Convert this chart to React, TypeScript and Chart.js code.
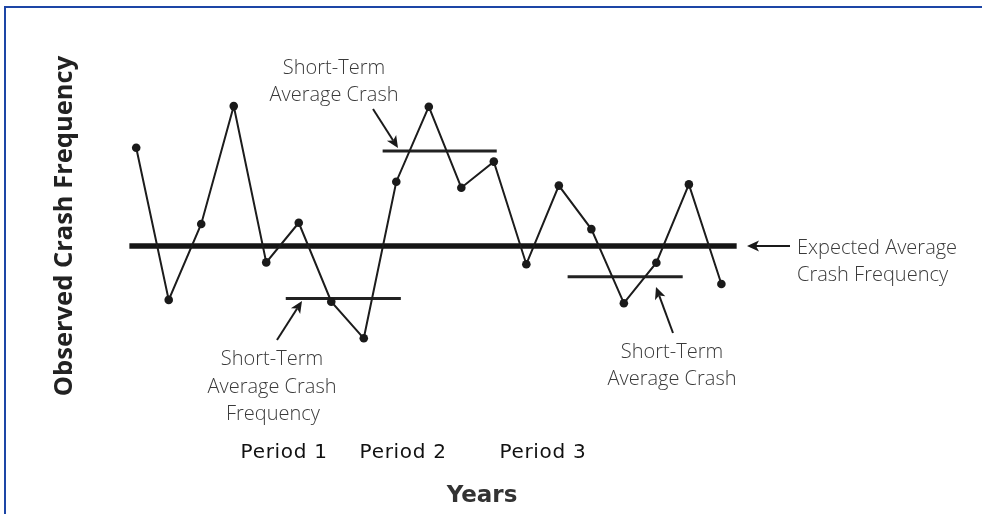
import { useEffect, useRef } from 'react';
import { Chart, registerables } from 'chart.js';

Chart.register(...registerables);

// ---- Data ----
const years = [1, 2, 3, 4, 5, 6, 7, 8, 9, 10, 11, 12, 13, 14, 15, 16, 17, 18, 19];
const observedCrashes = [8.24, 3.17, 5.7, 9.63, 4.42, 5.74, 3.11, 1.89, 7.11, 9.61, 6.91, 7.78, 4.36, 6.98, 5.53, 3.06, 4.41, 7.02, 3.7];
const expectedAverage = 4.97;
const expectedSpan = [0.79, 19.47];
const shortTermStarts = [5.6, 8.58, 14.27];
const shortTermEnds = [9.14, 12.09, 17.81];
const shortTermAverages = [3.22, 8.13, 3.94];
const periodLabels = ['Period 1', 'Period 2', 'Period 3'];
const periodLabelX = [5.55, 9.21, 13.51];

const ANN_FONT = '300 20px "Open Sans", "Noto Sans", sans-serif';
const ANN_COLOR = '#3a3a3a';

function drawArrow(ctx: CanvasRenderingContext2D, x1: number, y1: number, x2: number, y2: number) {
  const ang = Math.atan2(y2 - y1, x2 - x1);
  const headLen = 12;
  const headW = 5.5;
  const bx = x2 - headLen * Math.cos(ang);
  const by = y2 - headLen * Math.sin(ang);
  ctx.strokeStyle = '#1a1a1a';
  ctx.fillStyle = '#1a1a1a';
  ctx.lineWidth = 2;
  ctx.beginPath();
  ctx.moveTo(x1, y1);
  ctx.lineTo(bx + 3 * Math.cos(ang), by + 3 * Math.sin(ang));
  ctx.stroke();
  ctx.beginPath();
  ctx.moveTo(x2, y2);
  ctx.lineTo(bx + headW * Math.sin(ang), by - headW * Math.cos(ang));
  ctx.lineTo(bx + 3 * Math.cos(ang), by + 3 * Math.sin(ang));
  ctx.lineTo(bx - headW * Math.sin(ang), by + headW * Math.cos(ang));
  ctx.closePath();
  ctx.fill();
}

const annotationPlugin = {
  id: 'annotations',
  afterDraw(chart: any) {
    const ctx: CanvasRenderingContext2D = chart.ctx;
    const xs = chart.scales.x;
    ctx.save();

    // Y axis title
    ctx.save();
    ctx.translate(72, 226);
    ctx.rotate(-Math.PI / 2);
    ctx.font = 'bold 25.5px "Open Sans", "Noto Sans", sans-serif';
    ctx.fillStyle = '#222';
    ctx.textAlign = 'center';
    ctx.textBaseline = 'alphabetic';
    ctx.fillText('Observed Crash Frequency', 0, 0);
    ctx.restore();

    // annotation texts
    ctx.font = ANN_FONT;
    ctx.fillStyle = ANN_COLOR;
    ctx.textAlign = 'center';
    ctx.textBaseline = 'alphabetic';
    ctx.fillText('Short-Term', 334, 74);
    ctx.fillText('Average Crash', 334, 101);

    ctx.fillText('Short-Term', 272, 365);
    ctx.fillText('Average Crash', 272, 393);
    ctx.fillText('Frequency', 273, 420);

    ctx.fillText('Short-Term', 672, 358);
    ctx.fillText('Average Crash', 672, 385);

    ctx.textAlign = 'left';
    ctx.fillText('Expected Average', 797, 254);
    ctx.fillText('Crash Frequency', 797, 281);

    // arrows
    drawArrow(ctx, 373, 109, 398, 148);
    drawArrow(ctx, 277, 340, 302, 301);
    drawArrow(ctx, 673, 333, 656, 287);
    drawArrow(ctx, 790, 246, 747, 246);

    // period labels
    ctx.font = '20px "DejaVu Sans", Verdana, sans-serif';
    (ctx as any).letterSpacing = '0.7px';
    ctx.fillStyle = '#111';
    ctx.textAlign = 'center';
    periodLabels.forEach((p, i) => {
      ctx.fillText(p, xs.getPixelForValue(periodLabelX[i]), 458);
    });
    (ctx as any).letterSpacing = '0px';

    // x axis title
    ctx.font = 'bold 23px "DejaVu Sans", Verdana, sans-serif';
    ctx.fillStyle = '#333';
    ctx.fillText('Years', 482, 502);

    ctx.restore();
  },
};

export default function App() {
  const ref = useRef<HTMLCanvasElement | null>(null);

  useEffect(() => {
    if (!ref.current) return;
    const lineColor = '#151515';
    const datasets: any[] = [
      {
        label: 'Expected Average Crash Frequency',
        data: expectedSpan.map((x) => ({ x, y: expectedAverage })),
        borderColor: lineColor,
        borderWidth: 5.5,
        pointRadius: 0,
        borderCapStyle: 'butt',
        order: 2,
      },
      ...shortTermAverages.map((avg, i) => ({
        label: 'Short-Term Average ' + (i + 1),
        data: [
          { x: shortTermStarts[i], y: avg },
          { x: shortTermEnds[i], y: avg },
        ],
        borderColor: '#222',
        borderWidth: 3,
        pointRadius: 0,
        order: 2,
      })),
      {
        label: 'Observed Crash Frequency',
        data: years.map((x, i) => ({ x, y: observedCrashes[i] })),
        borderColor: '#1c1c1c',
        borderWidth: 2,
        pointRadius: 4.3,
        pointBackgroundColor: '#1a1a1a',
        pointBorderWidth: 0,
        tension: 0,
        order: 1,
      },
    ];

    const chart = new Chart(ref.current, {
      type: 'line',
      data: { datasets },
      options: {
        responsive: false,
        devicePixelRatio: 1,
        animation: false,
        layout: { padding: { left: 103.7, right: 228.1, top: 95, bottom: 119 } },
        scales: {
          x: { type: 'linear', min: 0, max: 20, display: false },
          y: { type: 'linear', min: 0, max: 10, display: false },
        },
        plugins: {
          legend: { display: false },
          tooltip: { enabled: false },
        },
        elements: { line: { fill: false } },
      },
      plugins: [annotationPlugin],
    } as any);

    return () => chart.destroy();
  }, []);

  return (
    <div style={{ position: 'fixed', left: 0, top: 0, width: 982, height: 514, background: '#fff', overflow: 'hidden' }}>
      <canvas ref={ref} width={982} height={514} style={{ display: 'block', position: 'absolute', left: 0, top: 0 }} />
      <div
        style={{
          position: 'absolute',
          left: 4,
          top: 6,
          width: 990,
          height: 520,
          borderTop: '2px solid #1d46a6',
          borderLeft: '2px solid #1d46a6',
          pointerEvents: 'none',
        }}
      />
    </div>
  );
}
